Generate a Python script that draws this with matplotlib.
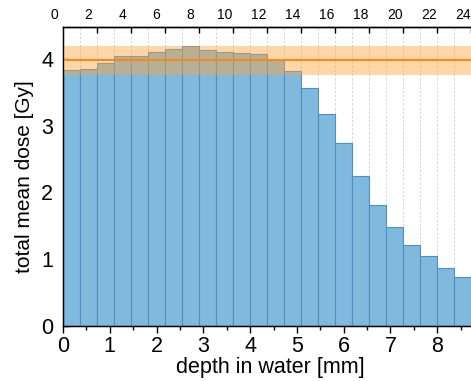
import numpy as np
import matplotlib
matplotlib.use("Agg")
import matplotlib.pyplot as plt
from matplotlib.ticker import MultipleLocator, FixedLocator, NullFormatter

plt.rcParams['font.family'] = ['Liberation Sans', 'DejaVu Sans']

# ---- data ----
bin_width_mm = 8.0 / 22.0
dose = [3.83, 3.85, 3.94, 4.05, 4.05, 4.11, 4.15, 4.19, 4.14, 4.10, 4.09, 4.08,
        3.98, 3.82, 3.57, 3.18, 2.74, 2.24, 1.82, 1.49, 1.22, 1.05, 0.87, 0.74]
mean_dose = 3.98
mean_sd = 0.22
top_labels = [0, 2, 4, 6, 8, 10, 12, 14, 16, 18, 20, 22, 24]

n = len(dose)
left_edges = np.arange(n) * bin_width_mm

fig = plt.figure(figsize=(4.71, 3.81), dpi=100)
ax = fig.add_axes([0.1338, 0.1444, 0.879, 0.7848])

# dashed grid at every bin edge
for e in np.arange(1, n + 2) * bin_width_mm:
    ax.axvline(e, color='#d0d0d0', lw=0.6, ls=(0, (3, 2)), zorder=0)

ax.bar(left_edges, dose, width=bin_width_mm, align='edge',
       color='#80b9de', edgecolor='#4f90c4', linewidth=0.8, zorder=2)

ax.axhspan(mean_dose - mean_sd, mean_dose + mean_sd, color='#ffa53c',
           alpha=0.45, lw=0, zorder=3)
ax.axhline(mean_dose, color='#f28a1e', lw=1.5, zorder=4)

ax.set_xlim(0, 8.85)
ax.set_ylim(0, 4.48)

ax.spines['right'].set_visible(False)
for s in ['left', 'bottom', 'top']:
    ax.spines[s].set_linewidth(1.0)

ax.xaxis.set_major_locator(MultipleLocator(1))
ax.xaxis.set_minor_locator(MultipleLocator(0.5))
ax.yaxis.set_major_locator(MultipleLocator(1))
ax.yaxis.set_minor_locator(MultipleLocator(0.5))

ax.tick_params(axis='x', which='major', direction='out', length=5, width=1,
               labelsize=15.5, pad=2)
ax.tick_params(axis='x', which='minor', direction='out', length=3, width=1)
ax.tick_params(axis='y', which='major', direction='in', length=4, width=1,
               labelsize=15.5, pad=7)
ax.tick_params(axis='y', which='minor', direction='in', length=2.5, width=1)
ax.tick_params(right=False, top=False, which='both')

ax.set_xlabel('depth in water [mm]', fontsize=15.5, labelpad=0)
ax.set_ylabel('total mean dose [Gy]', fontsize=15, labelpad=5)

# top axis: bin numbers
ax2 = ax.twiny()
ax2.set_xlim(ax.get_xlim())
ax2.spines['right'].set_visible(False)
ax2.spines['top'].set_linewidth(1.0)
label_pos = [(k - 0.5) * bin_width_mm for k in top_labels]
vis = [(p, k) for p, k in zip(label_pos, top_labels) if p >= 0]
ax2.xaxis.set_major_locator(FixedLocator([p for p, _ in vis]))
ax2.set_xticklabels([str(k) for _, k in vis])
ax2.xaxis.set_minor_locator(FixedLocator(list(np.arange(2, n + 1, 2) * bin_width_mm)))
ax2.xaxis.set_minor_formatter(NullFormatter())
ax2.tick_params(axis='x', which='major', length=0, labelsize=10, pad=3.5)
ax2.tick_params(axis='x', which='minor', direction='in', length=4, width=1)
for p, k in zip(label_pos, top_labels):
    if p < 0:
        ax2.annotate(str(k), xy=(p, 1), xycoords=('data', 'axes fraction'),
                     xytext=(0, 3.5), textcoords='offset points',
                     ha='center', va='bottom', fontsize=10, annotation_clip=False)

fig.savefig('out.png', dpi=100)
